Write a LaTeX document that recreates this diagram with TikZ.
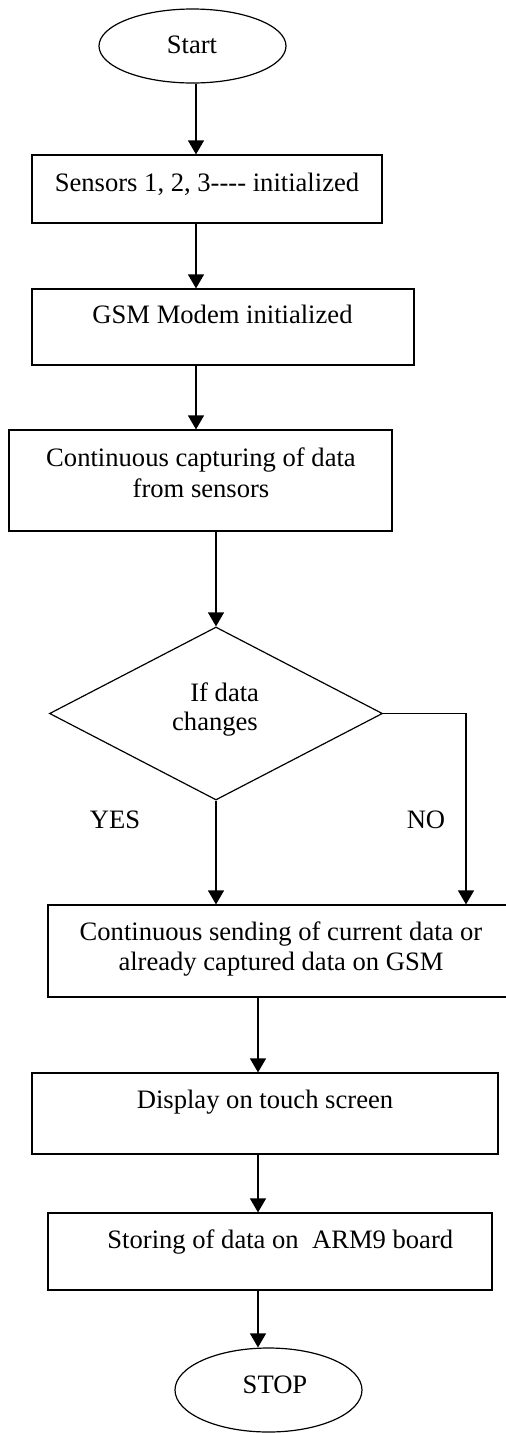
\documentclass[tikz,border=0pt]{standalone}
\usepackage{fontspec}
\setmainfont{Liberation Serif}
\usetikzlibrary{arrows.meta,shapes.geometric}
\begin{document}
\begin{tikzpicture}[x=1pt,y=-1pt,
  box/.style={draw, rectangle, line width=1.2pt, inner sep=0pt},
  term/.style={draw, ellipse, line width=1.2pt, inner sep=0pt},
  decision/.style={draw, diamond, line width=1.2pt, inner sep=0pt},
  txt/.style={font=\fontsize{26.6}{31}\selectfont, inner sep=0pt, anchor=base},
  arr/.style={-{Triangle[width=16pt,length=14pt]}, line width=1.2pt}]
\useasboundingbox (0,0) rectangle (506,1433);
\clip (0,0) rectangle (506,1433);

% shapes
\node[term, minimum width=187pt, minimum height=74pt] (start) at (192.5,46) {};
\node[box, minimum width=350pt, minimum height=68pt] (b1) at (207,189) {};
\node[box, minimum width=382pt, minimum height=76pt] (b2) at (223,327) {};
\node[box, minimum width=383pt, minimum height=101pt] (b3) at (200.5,480.5) {};
\node[decision, minimum width=333pt, minimum height=173pt] (dia) at (216,713.5) {};
\node[box, minimum width=462pt, minimum height=92pt] (b4) at (279,951) {};
\node[box, minimum width=466pt, minimum height=81pt] (b5) at (265,1113.5) {};
\node[box, minimum width=444pt, minimum height=77pt] (b6) at (270,1251.5) {};
\node[term, minimum width=187pt, minimum height=84pt] (stop) at (268.5,1390) {};

% texts
\node[txt] (tstart) at (192,53.3) {Start};
\node[txt] (t1) at (207,191) {Sensors 1, 2, 3-\kern0pt-\kern0pt-\kern0pt- initialized};
\node[txt] (t2) at (222.5,323) {GSM Modem initialized};
\node[txt] (t3a) at (201,466) {Continuous capturing of data};
\node[txt] (t3b) at (201,497) {from sensors};
\node[txt] (tif1) at (224.7,701) {If data};
\node[txt] (tif2) at (215,730.7) {changes};
\node[txt] (tyes) at (115,828) {YES};
\node[txt] (tno) at (426,828) {NO};
\node[txt] (t4a) at (281,940) {Continuous sending of current data or};
\node[txt] (t4b) at (281,970.7) {already captured data on GSM};
\node[txt] (t5) at (265,1108.3) {Display on touch screen};
\node[txt] (t6) at (280.3,1248.3) {Storing of data on\ \ ARM9 board};
\node[txt] (tstop) at (275,1393.3) {STOP};

% connectors
\coordinate (c1) at (196,0);
\coordinate (c2) at (258,0);
\coordinate (nox) at (466,0);
\draw[arr] (start.south -| c1) -- (b1.north -| c1);
\draw[arr] (b1.south -| c1) -- (b2.north -| c1);
\draw[arr] (b2.south -| c1) -- (b3.north -| c1);
\draw[arr] (b3.south -| dia.north) -- (dia.north);
\draw[arr] (dia.south) -- (dia.south |- b4.north);
\draw[arr] (dia.east) -| (b4.north -| nox);
\draw[arr] (b4.south -| c2) -- (b5.north -| c2);
\draw[arr] (b5.south -| c2) -- (b6.north -| c2);
\draw[arr] (b6.south -| c2) -- (stop.north -| c2);
\end{tikzpicture}
\end{document}
